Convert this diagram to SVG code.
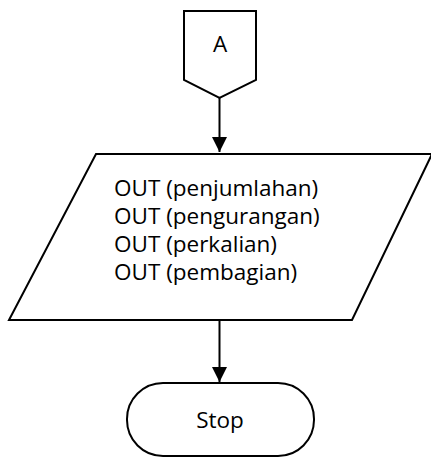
<svg xmlns="http://www.w3.org/2000/svg" width="431" height="458" viewBox="0 0 431 458">
<style>
.s{fill:#fff;stroke:#000;stroke-width:2}
.t{font-family:"Open Sans","Liberation Sans",sans-serif;font-size:22.5px;fill:#000}
.c{stroke:#000;stroke-width:2;fill:none}
</style>
<defs>
<marker id="ah" viewBox="0 0 10 10" refX="10" refY="5" markerWidth="7.5" markerHeight="7.5" orient="auto">
<path d="M0,0 L10,5 L0,10 z" fill="#000"/>
</marker>
</defs>
<g id="connectors">
<line class="c" x1="219.5" y1="98" x2="219.5" y2="152" marker-end="url(#ah)"/>
<line class="c" x1="219.5" y1="320" x2="219.5" y2="382" marker-end="url(#ah)"/>
</g>
<g id="nodeA">
<path class="s" d="M184,11 H256 V80 L219.5,98 L184,80 Z"/>
<text class="t" x="220" y="52" text-anchor="middle">A</text>
</g>
<g id="output">
<path class="s" d="M96,154 H432 L352,320 H9 Z"/>
<text class="t" x="114" y="196">OUT (penjumlahan)</text>
<text class="t" x="114" y="224">OUT (pengurangan)</text>
<text class="t" x="114" y="252">OUT (perkalian)</text>
<text class="t" x="114" y="280">OUT (pembagian)</text>
</g>
<g id="stop">
<rect class="s" x="127" y="383" width="187" height="73" rx="36" ry="36"/>
<text class="t" x="220" y="428" text-anchor="middle">Stop</text>
</g>
</svg>
